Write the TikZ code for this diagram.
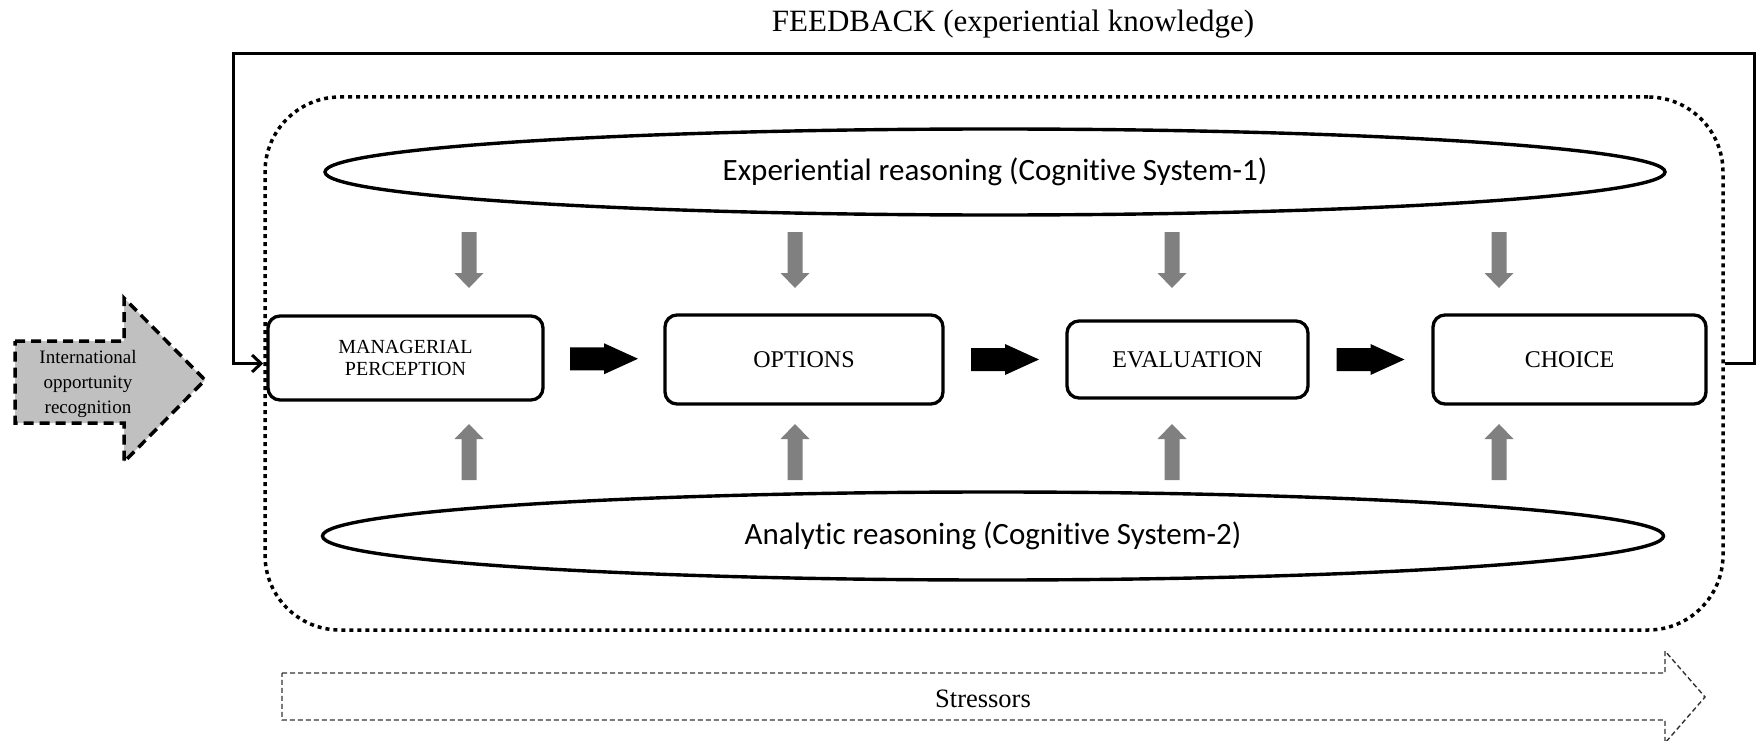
\documentclass[tikz,border=0pt]{standalone}
\usepackage{fontspec}
\setmainfont{Liberation Serif}
\newfontfamily\calfont[Ligatures=NoCommon]{Carlito}
\usetikzlibrary{shapes.geometric,calc,arrows.meta}
\definecolor{arrgrey}{HTML}{808080}
\definecolor{ltgrey}{HTML}{C0C0C0}
\begin{document}
\begin{tikzpicture}[x=1pt,y=-1pt,
  box/.style={draw,line width=3.3pt,rounded corners=12pt,inner sep=0pt,align=center,font=\fontsize{24}{26}\selectfont},
  ell/.style={draw,ellipse,line width=3.4pt,inner sep=0pt,font=\calfont\fontsize{31}{34}\selectfont},
  framebox/.style={draw,line width=3.5pt,dash pattern=on 4pt off 4pt,rounded corners=75pt,inner sep=0pt},
  fbline/.style={line width=3pt,-{Straight Barb[length=9pt,width=17pt]}},
  blkarr/.pic={\fill[black] (-34,-11.5) -- (0,-11.5) -- (0,-15.5) -- (34,0) -- (0,15.5) -- (0,11.5) -- (-34,11.5) -- cycle;},
  garrdown/.pic={\fill[arrgrey] (-7.5,-41) -- (7.5,-41) -- (7.5,0) -- (14.5,0) -- (0,15) -- (-14.5,0) -- (-7.5,0) -- cycle;},
  garrup/.pic={\fill[arrgrey] (-7.5,41) -- (7.5,41) -- (7.5,0) -- (14.5,0) -- (0,-15) -- (-14.5,0) -- (-7.5,0) -- cycle;}
]
\useasboundingbox (0,0) rectangle (1758,741);

% title
\node[font=\fontsize{31}{33}\selectfont] (fbtext) at (1013,24) {FEEDBACK (experiential knowledge)};

% dotted frame
\node[framebox, minimum width=1458pt, minimum height=533pt] (frame) at (994,363.5) {};

% feedback loop
\coordinate (fbR) at (1754,54);
\coordinate (fbL) at (233,54);
\draw[fbline] (frame.east) -| (fbR) -- (fbL) |- (frame.west);

% ellipses
\node[ell, minimum width=1340pt, minimum height=86pt] (sys1) at (995,172) {Experiential reasoning (Cognitive System-1)};
\node[ell, minimum width=1341pt, minimum height=88pt] (sys2) at (993,536) {Analytic reasoning (Cognitive System-2)};

% process boxes
\node[box, minimum width=275pt, minimum height=84pt, font=\fontsize{20}{22}\selectfont] (mp) at (405.5,358) {MANAGERIAL\\PERCEPTION};
\node[box, minimum width=278pt, minimum height=89pt] (opt) at (804,359.5) {OPTIONS};
\node[box, minimum width=241pt, minimum height=77pt] (eval) at (1187.5,359.5) {EVALUATION};
\node[box, minimum width=273pt, minimum height=89pt] (choice) at (1569.5,359.5) {CHOICE};

% black block arrows
\pic at ($(mp.east)!0.5!(opt.west)$) {blkarr};
\pic at ($(opt.east)!0.5!(eval.west)$) {blkarr};
\pic at ($(eval.east)!0.5!(choice.west)$) {blkarr};

% grey arrows
\foreach \gx in {469,795,1172,1499}{
  \pic at (\gx,273) {garrdown};
  \pic at (\gx,439) {garrup};
}

% international opportunity recognition arrow
\draw[fill=ltgrey, line width=3.5pt, dash pattern=on 10pt off 6pt]
  (15,341) -- (124,341) -- (124,298) -- (205,380) -- (124,462) -- (124,423) -- (15,423) -- cycle;
\node[align=center, font=\fontsize{19}{25}\selectfont] (iorec) at (88,384) {International\\opportunity\\recognition};

% stressors arrow
\draw[line width=1.4pt, black!80, dash pattern=on 5pt off 3pt]
  (282,673) -- (1665,673) -- (1665,651) -- (1705,697) -- (1665,743) -- (1665,720) -- (282,720) -- cycle;
\node[font=\fontsize{26.5}{28}\selectfont] (stress) at (983,699) {Stressors};
\end{tikzpicture}
\end{document}
